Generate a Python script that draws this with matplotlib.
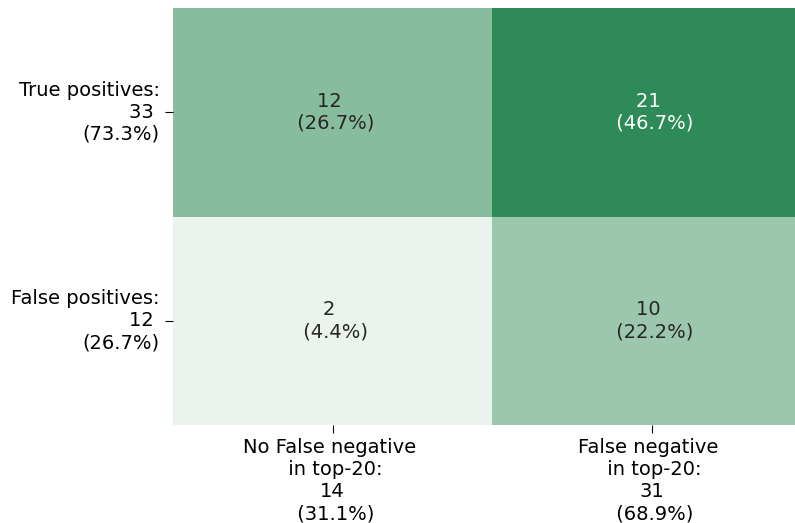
import numpy as np
import matplotlib
matplotlib.use("Agg")
import matplotlib.pyplot as plt
import seaborn as sns

# counts: rows = true/false positives, cols = no FN / FN in top-20
counts = np.array([[12, 21],
                   [2, 10]])
row_names = ["True positives:", "False positives:"]
col_names = ["No False negative \n in top-20:", "False negative \n in top-20:"]

total = counts.sum()
annot = np.array([["%d \n (%.1f%%)" % (v, 100.0 * v / total) for v in row] for row in counts])
row_sums = counts.sum(axis=1)
col_sums = counts.sum(axis=0)
ylabels = ["%s\n%d \n(%.1f%%)" % (n, s, 100.0 * s / total) for n, s in zip(row_names, row_sums)]
xlabels = ["%s\n%d\n (%.1f%%)" % (n, s, 100.0 * s / total) for n, s in zip(col_names, col_sums)]

fig = plt.figure(figsize=(7.95, 5.23), dpi=100)
# the right column runs past the figure edge, as in the original
ax = fig.add_axes([173 / 795, 1 - 425 / 523, 638 / 795, 417 / 523])
cmap = sns.light_palette("seagreen", as_cmap=True)
sns.heatmap(counts, annot=annot, fmt="", cmap=cmap, cbar=False, ax=ax,
            annot_kws={"fontsize": 14})
ax.set_xticklabels(xlabels, fontsize=14)
ax.set_yticklabels(ylabels, fontsize=14, rotation=0)
for t in ax.get_yticklabels():
    t.set_multialignment("right")
for t in ax.get_xticklabels():
    t.set_multialignment("center")
ax.tick_params(length=6)

fig.savefig("out.png", dpi=100)
